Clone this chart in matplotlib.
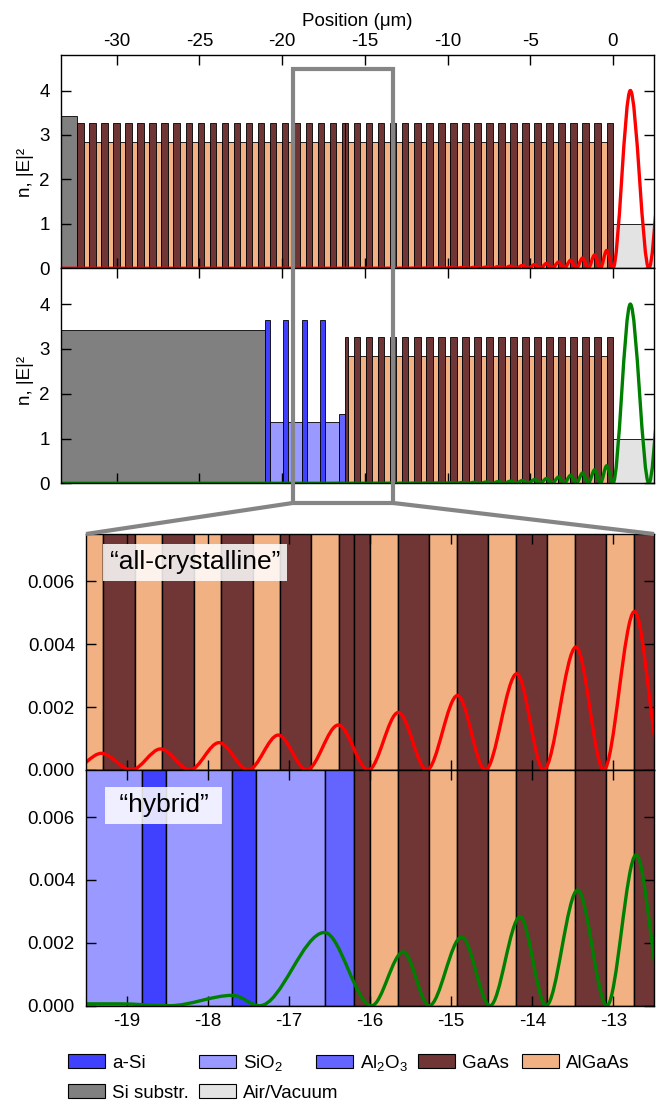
import matplotlib
matplotlib.use("Agg")
import matplotlib.pyplot as plt
import numpy as np
from matplotlib.lines import Line2D
from matplotlib.patches import Patch, PathPatch
from matplotlib.path import Path
from matplotlib.ticker import FormatStrFormatter

plt.rcParams["font.family"] = ["Liberation Sans", "DejaVu Sans"]
plt.rcParams["mathtext.fontset"] = "custom"
plt.rcParams["mathtext.rm"] = "Liberation Sans"
plt.rcParams["mathtext.it"] = "Liberation Sans:italic"
plt.rcParams["mathtext.bf"] = "Liberation Sans:bold"
plt.rcParams["axes.unicode_minus"] = False

# materials: refractive index and fill colour
MATERIALS = ["a-Si", "SiO2", "Al2O3", "GaAs", "AlGaAs", "Si", "Air"]
LABELS = ["a-Si", "SiO$_2$", "Al$_2$O$_3$", "GaAs", "AlGaAs", "Si substr.", "Air/Vacuum"]
N_INDEX = [3.64, 1.37, 1.55, 3.27, 2.85, 3.42, 1.0]
COLORS = ["#4040ff", "#9999ff", "#6464ff", "#703535", "#f2b183", "#808080", "#e3e3e3"]

# layer thicknesses (um), listed from substrate to surface (surface at 0)
GAAS_D = 0.390
ALGAAS_D = 0.337
TOP_DBR = ([("GaAs", 0.206), ("AlGaAs", ALGAAS_D)]
           + [("GaAs", GAAS_D), ("AlGaAs", ALGAAS_D)] * 21
           + [("GaAs", GAAS_D)])
CRYSTAL_STACK = ([("Si", 2.0)]
                 + [("GaAs", GAAS_D), ("AlGaAs", ALGAAS_D)] * 22
                 + [("GaAs", 0.184)] + TOP_DBR)
HYBRID_STACK = ([("Si", 13.0)]
                + [("a-Si", 0.30), ("SiO2", 0.81)] * 3
                + [("a-Si", 0.30), ("SiO2", 0.85), ("Al2O3", 0.35)] + TOP_DBR)
AIR_D = 3.0

# |E|^2 extrema (nodes and maxima)
RED_X = [-33.4, -19.67, -19.31, -18.94, -18.58, -18.22, -17.86, -17.50, -17.13, -16.78,
         -16.39, -16.02, -15.65, -15.30, -14.92, -14.58, -14.19, -13.86, -13.46, -13.12,
         -12.74, -12.39, -12.01, -11.66, -11.29, -10.94, -10.56, -10.21, -9.83, -9.48,
         -9.11, -8.76, -8.38, -8.03, -7.65, -7.30, -6.93, -6.58, -6.20, -5.85,
         -5.47, -5.12, -4.74, -4.39, -4.02, -3.67, -3.29, -2.94, -2.56, -2.21,
         -1.84, -1.49, -1.11, -0.76, -0.38, 0.0, 1.05, 2.17, 3.29]
RED_Y = [0.0, 0.0, 0.00053, 0.0, 0.00067, 0.0, 0.00087, 0.0, 0.00111, 0.0,
         0.00143, 0.0, 0.00183, 0.0, 0.00237, 0.0, 0.00306, 0.0, 0.00391, 0.0,
         0.00504, 0.0, 0.0065, 0.0, 0.0084, 0.0, 0.0108, 0.0, 0.0140, 0.0,
         0.018, 0.0, 0.023, 0.0, 0.030, 0.0, 0.039, 0.0, 0.050, 0.0,
         0.065, 0.0, 0.084, 0.0, 0.108, 0.0, 0.139, 0.0, 0.18, 0.0,
         0.23, 0.0, 0.30, 0.0, 0.40, 0.0, 4.0, 0.0, 4.0]
GREEN_X = [-33.4, -19.10, -18.47, -17.69, -17.36, -16.56, -15.98, -15.59, -15.27, -14.87,
           -14.52, -14.15, -13.83, -13.44, -13.08, -12.72, -12.37, -12.00, -11.65, -11.28,
           -10.93, -10.55, -10.20, -9.82, -9.47, -9.10, -8.75, -8.37, -8.02, -7.64,
           -7.30, -6.92, -6.57, -6.19, -5.85, -5.47, -5.12, -4.74, -4.39, -4.02,
           -3.67, -3.29, -2.94, -2.56, -2.21, -1.84, -1.49, -1.11, -0.76, -0.38,
           0.0, 1.05, 2.17, 3.29]
GREEN_Y = [0.0, 0.00006, 0.0, 0.00033, 0.0, 0.00233, 0.0, 0.00171, 0.0, 0.00219,
           0.0, 0.00283, 0.0, 0.00368, 0.0, 0.00480, 0.0, 0.0062, 0.0, 0.0081,
           0.0, 0.0105, 0.0, 0.0136, 0.0, 0.0176, 0.0, 0.0228, 0.0, 0.0295,
           0.0, 0.0385, 0.0, 0.049, 0.0, 0.064, 0.0, 0.083, 0.0, 0.107,
           0.0, 0.138, 0.0, 0.178, 0.0, 0.23, 0.0, 0.30, 0.0, 0.39,
           0.0, 4.0, 0.0, 4.0]

FULL_XTICKS = [-30, -25, -20, -15, -10, -5, 0]
ZOOM_XTICKS = [-19, -18, -17, -16, -15, -14, -13]
BOX_X = (-19.35, -13.29)   # grey zoom marker in the overview panels


def stack_bars(stack):
    names = [m for m, _ in stack] + ["Air"]
    d = np.array([t for _, t in stack] + [AIR_D])
    starts = np.cumsum(d) - d - d[:-1].sum()
    idx = [MATERIALS.index(m) for m in names]
    return starts, d, [N_INDEX[i] for i in idx], [COLORS[i] for i in idx]


def field_path(xs, ys):
    # smooth curve through the extrema, flat tangent at each of them
    verts = [(xs[0], ys[0])]
    for x0, y0, x1, y1 in zip(xs[:-1], ys[:-1], xs[1:], ys[1:]):
        dx = (x1 - x0) / 3.0
        verts += [(x0 + dx, y0), (x1 - dx, y1), (x1, y1)]
    codes = [Path.MOVETO] + [Path.CURVE4] * (len(verts) - 1)
    return Path(verts, codes)


W, H = 658, 1106
fig = plt.figure(figsize=(W / 100, H / 100), dpi=100)


def px_axes(l, t, r, b):
    return fig.add_axes([l / W, 1 - b / H, (r - l) / W, (b - t) / H])


ax1 = px_axes(61, 55, 654, 268.3)
ax2 = px_axes(61, 268.3, 654, 483.3)
ax3 = px_axes(86, 534, 654, 770)
ax4 = px_axes(86, 770, 654, 1005.7)

panels = [(ax1, CRYSTAL_STACK, RED_X, RED_Y, "red", 0.6),
          (ax2, HYBRID_STACK, GREEN_X, GREEN_Y, "green", 0.6),
          (ax3, CRYSTAL_STACK, RED_X, RED_Y, "red", 1.0),
          (ax4, HYBRID_STACK, GREEN_X, GREEN_Y, "green", 1.0)]
for ax, stack, fx, fy, col, elw in panels:
    x0, d, n, c = stack_bars(stack)
    ax.bar(x0, n, width=d, align="edge", color=c, edgecolor="black",
           linewidth=elw, zorder=1)
    ax.add_patch(PathPatch(field_path(fx, fy), fill=False, edgecolor=col,
                           linewidth=2.4, zorder=3, capstyle="butt"))
    ax.tick_params(which="both", direction="in", top=True, right=True,
                   length=7.5, width=1.0, labelsize=13.5)
    for s in ax.spines.values():
        s.set_linewidth(1.0)
        s.set_zorder(4)

for ax in (ax1, ax2):
    ax.set_xlim(-33.36, 2.48)
    ax.set_ylim(0, 4.8)
    ax.set_xticks(FULL_XTICKS)
    ax.set_yticks([0, 1, 2, 3, 4])
    ax.tick_params(axis="x", labelbottom=False)
    ax.tick_params(axis="y", pad=8)
    ax.set_ylabel("n, |E|²", fontsize=13.5)

ax1.tick_params(axis="x", labeltop=True, pad=3.5)
ax1.set_xlabel("Position (μm)", fontsize=13.5, labelpad=5)
ax1.xaxis.set_label_position("top")
ax1.yaxis.set_label_coords(-0.045, 0.45)
ax2.yaxis.set_label_coords(-0.045, 0.48)

for ax in (ax3, ax4):
    ax.set_xlim(-19.5, -12.5)
    ax.set_ylim(0, 0.0075)
    ax.set_xticks(ZOOM_XTICKS)
    ax.set_yticks([0, 0.002, 0.004, 0.006])
    ax.yaxis.set_major_formatter(FormatStrFormatter("%.3f"))
    ax.tick_params(axis="y", pad=8)
ax3.tick_params(axis="x", labelbottom=False)
ax4.tick_params(axis="x", pad=5.5)

box = dict(boxstyle="square,pad=0.25", fc="white", ec="none", alpha=0.85)
ax3.text(0.042, 0.88, "\u201call-crystalline\u201d", transform=ax3.transAxes,
         fontsize=19, ha="left", va="center", bbox=box, zorder=5)
ax4.text(0.045, 0.85, " \u201chybrid\u201d ", transform=ax4.transAxes,
         fontsize=19, ha="left", va="center", bbox=box, zorder=5)

# zoom marker and connecting lines
inv = fig.transFigure.inverted()
bx0 = inv.transform(ax1.transData.transform((BOX_X[0], 0)))[0]
bx1 = inv.transform(ax1.transData.transform((BOX_X[1], 0)))[0]
btop = inv.transform(ax1.transData.transform((0, 4.49)))[1]
bbot = inv.transform(ax2.transAxes.transform((0, -0.0915)))[1]
zl, zt = inv.transform(ax3.transAxes.transform((0, 1)))
zr = inv.transform(ax3.transAxes.transform((1, 1)))[0]
grey = dict(color="#858585", linewidth=3.0, transform=fig.transFigure,
            solid_joinstyle="miter", solid_capstyle="butt")
fig.add_artist(Line2D([bx0, bx0, bx1, bx1, bx0], [bbot, btop, btop, bbot, bbot], **grey))
fig.add_artist(Line2D([zl, bx0], [zt, bbot], **grey))
fig.add_artist(Line2D([zr, bx1], [zt, bbot], **grey))

# legend, one entry per tab stop
LEGEND_POS = [(68, 1063), (199, 1063), (316, 1063), (418, 1063), (522, 1063),
              (68, 1093), (199, 1093)]
for i, (lx, ly) in enumerate(LEGEND_POS):
    h = Patch(facecolor=COLORS[i], edgecolor="black", linewidth=0.8)
    fig.legend(handles=[h], labels=[LABELS[i]], loc="center left",
               bbox_to_anchor=(lx / W, 1 - ly / H), frameon=False,
               borderpad=0, borderaxespad=0, handlelength=1.95,
               handleheight=0.75, handletextpad=0.4, fontsize=13.5)

fig.savefig("out.png", dpi=100)
